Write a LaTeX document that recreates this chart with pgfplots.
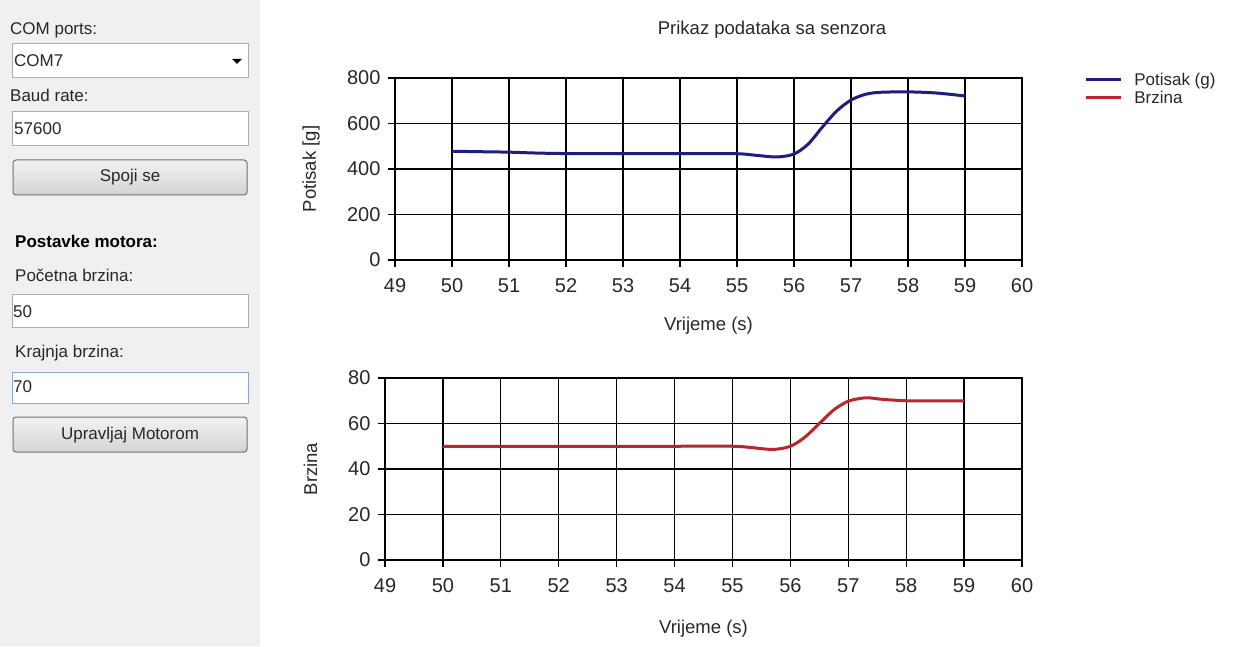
\documentclass[border=0pt]{standalone}
\usepackage{pgfplots}
\pgfplotsset{compat=1.18}
\usepackage{fontspec}
\setmainfont{Liberation Sans}

\definecolor{panelgray}{RGB}{240,240,240}
\definecolor{boxborder}{RGB}{171,173,179}
\definecolor{focusborder}{RGB}{140,165,200}
\definecolor{btnborder}{RGB}{112,112,112}
\definecolor{uitext}{RGB}{40,40,40}
\definecolor{potisak}{RGB}{30,30,130}
\definecolor{brzina}{RGB}{190,36,44}

\newcommand{\uifont}{\fontsize{17}{20}\selectfont}

\pgfplotsset{
  sensorchart/.style={
    scale only axis,
    xmin=49, xmax=60,
    xtick={49,50,...,60},
    grid=major,
    grid style={black, line width=1.3pt},
    axis line style={black, line width=1.3pt},
    tick style={black, line width=1.3pt},
    tick align=outside,
    tick pos=left,
    major tick length=7pt,
    /pgf/number format/assume math mode=true,
    tick label style={font=\fontsize{20}{24}\selectfont, color=uitext},
    xticklabel style={yshift=-8pt},
    yticklabel style={xshift=-4pt},
    label style={font=\fontsize{18.5}{22}\selectfont, color=uitext},
  },
}

\begin{document}
\begin{tikzpicture}
\useasboundingbox (0pt,0pt) rectangle (1236pt,646pt);
\fill[white] (0pt,0pt) rectangle (1236pt,646pt);

% left control panel
\begin{scope}[x=1pt,y=1pt, every node/.append style={text=uitext}]
\fill[panelgray] (0,0) rectangle (260,646);
\node[anchor=west, inner sep=0pt, font=\uifont] at (10,616) {COM ports:};
\draw[boxborder, fill=white, line width=1pt] (12,568) rectangle (248,602);
\node[anchor=west, inner sep=0pt, font=\uifont] at (14,585) {COM7};
\fill[black] (232,587) -- (242,587) -- (237,582) -- cycle;
\node[anchor=west, inner sep=0pt, font=\uifont] at (10,551) {Baud rate:};
\draw[boxborder, fill=white, line width=1pt] (12,500) rectangle (248,534);
\node[anchor=west, inner sep=0pt, font=\uifont] at (14,517) {57600};
\draw[btnborder, rounded corners=3pt, top color=white!95!black, bottom color=black!17, line width=1pt] (13,451) rectangle (247,486);
\node[font=\uifont] at (130,469) {Spoji se};
\node[anchor=west, inner sep=0pt, font=\uifont\bfseries, text=black] at (15,405) {Postavke motora:};
\node[anchor=west, inner sep=0pt, font=\uifont] at (15,371) {Početna brzina:};
\draw[boxborder, fill=white, line width=1pt] (12,318) rectangle (248,351);
\node[anchor=west, inner sep=0pt, font=\uifont] at (13,334) {50};
\node[anchor=west, inner sep=0pt, font=\uifont] at (15,293) {Krajnja brzina:};
\draw[focusborder, fill=white, line width=1pt] (12,243) rectangle (248,274);
\node[anchor=west, inner sep=0pt, font=\uifont] at (13,259) {70};
\draw[btnborder, rounded corners=3pt, top color=white!95!black, bottom color=black!17, line width=1pt] (13,194) rectangle (247,229);
\node[font=\uifont] at (130,211) {Upravljaj Motorom};

% chart title
\node[font=\fontsize{18.5}{22}\selectfont] at (772,616) {Prikaz podataka sa senzora};
\end{scope}

% upper chart: thrust
\begin{axis}[
    sensorchart,
    at={(395pt,386pt)}, anchor=south west,
    width=627pt, height=182pt,
    ymin=0, ymax=800,
    ytick={0,200,...,800},
    xlabel={Vrijeme (s)},
    ylabel={Potisak [g]},
    x label style={at={(axis description cs:0.5,-0.36)}, anchor=center},
    y label style={at={(axis description cs:-0.134,0.5)}, anchor=center, rotate=0},
    legend style={at={(axis description cs:1.099,1.04)}, anchor=north west,
        draw=none, fill=none, font=\fontsize{17}{20}\selectfont, text=uitext,
        row sep=0pt, inner sep=0pt,
        /tikz/every odd column/.append style={column sep=10pt}},
    legend cell align=left,
    legend image code/.code={\draw[#1] (0pt,0pt) -- (35pt,0pt);},
]
\addplot[potisak, line width=3pt, smooth] coordinates {
    (50,478) (50.5,476) (51,474) (51.5,470) (52,468) (53,468) (54,468)
    (55,467) (55.3,461) (55.7,453) (56,466) (56.25,510) (56.5,585)
    (56.75,655) (57,703) (57.25,728) (57.5,737) (58,739) (58.5,734) (59,721)
};
\addlegendentry{Potisak (g)}
\addlegendimage{brzina, line width=3pt}
\addlegendentry{Brzina}
\end{axis}

% lower chart: speed
\begin{axis}[
    sensorchart,
    at={(385pt,86pt)}, anchor=south west,
    width=637pt, height=182pt,
    ymin=0, ymax=80,
    ytick={0,20,...,80},
    xlabel={Vrijeme (s)},
    ylabel={Brzina},
    x label style={at={(axis description cs:0.5,-0.38)}, anchor=center},
    y label style={at={(axis description cs:-0.117,0.5)}, anchor=center, rotate=0},
]
\addplot[brzina, line width=3pt, smooth] coordinates {
    (50,50) (51,50) (52,50) (53,50) (54,50) (55,50) (55.3,49.5)
    (55.7,48.6) (56,50) (56.25,54) (56.5,60) (56.75,66) (57,69.8)
    (57.3,71.3) (57.6,70.6) (58,70) (58.5,70) (59,70)
};
\end{axis}
\end{tikzpicture}
\end{document}
